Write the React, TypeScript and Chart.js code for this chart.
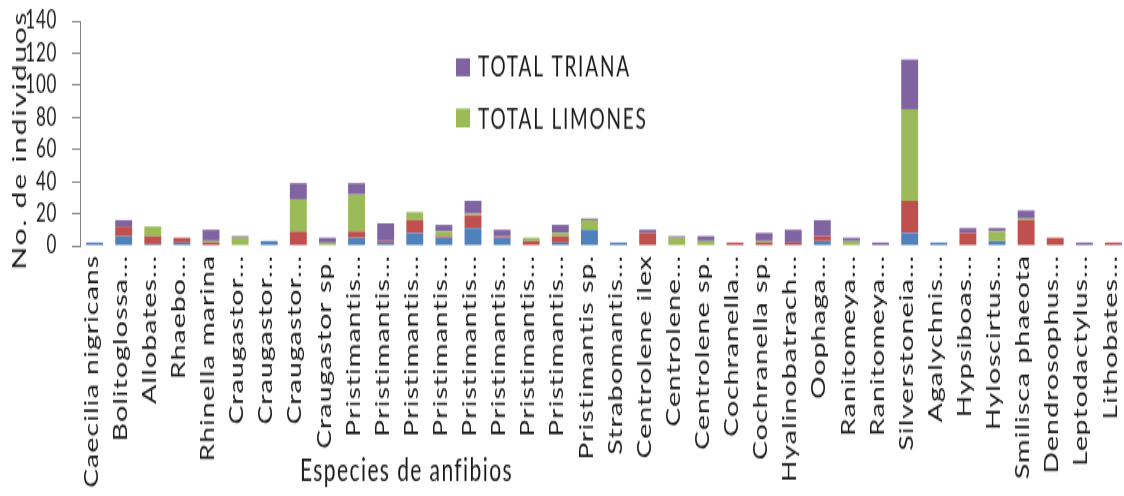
import React, { useEffect, useRef } from "react";
import { Chart, registerables } from "chart.js";

Chart.register(...registerables);

const categories = [
  "Caecilia nigricans",
  "Bolitoglossa...",
  "Allobates...",
  "Rhaebo...",
  "Rhinella marina",
  "Craugastor...",
  "Craugastor...",
  "Craugastor...",
  "Craugastor sp.",
  "Pristimantis...",
  "Pristimantis...",
  "Pristimantis...",
  "Pristimantis...",
  "Pristimantis...",
  "Pristimantis...",
  "Pristimantis...",
  "Pristimantis...",
  "Pristimantis sp.",
  "Strabomantis...",
  "Centrolene ilex",
  "Centrolene...",
  "Centrolene sp.",
  "Cochranella...",
  "Cochranella sp.",
  "Hyalinobatrach...",
  "Oophaga...",
  "Ranitomeya...",
  "Ranitomeya...",
  "Silverstoneia...",
  "Agalychnis...",
  "Hypsiboas...",
  "Hyloscirtus...",
  "Smilisca phaeota",
  "Dendrosophus...",
  "Leptodactylus...",
  "Lithobates...",
];

const seriesNames = ["Serie 1", "Serie 2", "TOTAL LIMONES", "TOTAL TRIANA"];

const serie1 = [2, 6, 1, 2, 0, 0, 3, 0, 0, 5, 2, 8, 5, 11, 5, 0, 2, 10, 2, 0, 0, 0, 0, 0, 0, 3, 0, 0, 8, 2, 0, 3, 0, 0, 0, 0];
const serie2 = [0, 6, 5, 3, 2, 0, 0, 9, 0, 4, 1, 8, 1, 8, 1, 3, 4, 0, 0, 8, 0, 0, 2, 2, 2, 3, 0, 0, 20, 0, 8, 0, 16, 5, 0, 2];
const totalLimones = [0, 0, 6, 0, 1, 5, 0, 20, 2, 23, 0, 5, 3, 1, 0, 2, 2, 6, 0, 0, 5, 3, 0, 1, 0, 0, 3, 0, 57, 0, 0, 6, 1, 0, 0, 0];
const totalTriana = [0, 4, 0, 0, 7, 1, 0, 10, 3, 7, 11, 0, 4, 8, 4, 0, 5, 1, 0, 2, 1, 3, 0, 5, 8, 10, 2, 2, 31, 0, 3, 2, 5, 0, 2, 0];

const yMin = 0;
const yMax = 140;
const yStep = 20;

const xTitle = "Especies de anfibios";
const yTitle = "No. de individuos";

const colors = ["#4F81BD", "#C0504D", "#9BBB59", "#8064A2"];

const W = 1128;
const H = 331;
const OUT_W = 1124;
const OUT_H = 496;
const SY = OUT_H / H;

export default function App() {
  const ref = useRef<HTMLCanvasElement>(null);

  useEffect(() => {
    const canvas = ref.current;
    if (!canvas) return;

    const overlay = {
      id: "overlay",
      beforeDraw(chart: any) {
        (chart.ctx as any).letterSpacing = "0.7px";
      },
      afterDraw(chart: any) {
        const ctx = chart.ctx as any;
        ctx.save();
        // legend (only two entries visible)
        ctx.fillStyle = colors[3];
        ctx.fillRect(456, 38.9, 14, 12);
        ctx.fillStyle = colors[2];
        ctx.fillRect(456, 72.4, 14, 12.6);
        ctx.fillStyle = "#1a1a1a";
        ctx.font = "19px Lato";
        ctx.letterSpacing = "1.8px";
        ctx.textAlign = "left";
        ctx.textBaseline = "alphabetic";
        ctx.fillText(seriesNames[3], 478, 51.3);
        ctx.fillText(seriesNames[2], 478, 85.6);
        // x axis title
        ctx.font = "21px Lato";
        ctx.letterSpacing = "1.4px";
        ctx.fillText(xTitle, 300, 321.3);
        // y axis title
        ctx.translate(26, 93.5);
        ctx.rotate(-Math.PI / 2);
        ctx.font = "20px Lato";
        ctx.letterSpacing = "1.2px";
        ctx.textAlign = "center";
        ctx.fillText(yTitle, 0, 0);
        ctx.restore();
      },
    };

    const seriesData = [serie1, serie2, totalLimones, totalTriana];

    const chart = new Chart(canvas, {
      type: "bar",
      data: {
        labels: categories,
        datasets: seriesData.map((d, i) => ({
          label: seriesNames[i],
          data: d,
          backgroundColor: colors[i],
          borderWidth: 0,
          categoryPercentage: 1,
          barPercentage: 0.58,
        })),
      },
      options: {
        animation: false,
        responsive: true,
        maintainAspectRatio: false,
        devicePixelRatio: 1,
        layout: { padding: { top: 14, left: 0, right: 0, bottom: 0 } },
        plugins: {
          legend: { display: false },
          tooltip: { enabled: false },
        },
        scales: {
          x: {
            stacked: true,
            grid: { display: false, drawTicks: false },
            border: { display: false },
            ticks: {
              autoSkip: false,
              minRotation: 90,
              maxRotation: 90,
              padding: 6,
              labelOffset: -3,
              color: "#1a1a1a",
              font: { family: "Lato", size: 19 },
            },
            afterFit: (s: any) => {
              s.height = H - 164;
              s.paddingLeft = 0;
              s.paddingRight = 0;
            },
          },
          y: {
            stacked: true,
            min: yMin,
            max: yMax,
            ticks: {
              stepSize: yStep,
              autoSkip: false,
              padding: 15,
              color: "#1a1a1a",
              font: { family: "Lato", size: 17 },
            },
            grid: {
              drawOnChartArea: false,
              drawTicks: true,
              tickLength: 8,
              color: "#868686",
            },
            border: { display: true, color: "#868686", width: 1 },
            afterFit: (s: any) => {
              s.width = 80;
              s.paddingTop = 0;
              s.paddingBottom = 0;
            },
          },
        },
      } as any,
      plugins: [overlay],
    });

    return () => chart.destroy();
  }, []);

  return (
    <div
      style={{
        position: "fixed",
        left: 0,
        top: 0,
        width: OUT_W,
        height: OUT_H,
        overflow: "hidden",
        background: "#ffffff",
      }}
    >
      <div
        style={{
          position: "relative",
          width: W,
          height: H,
          transform: `scaleY(${SY})`,
          transformOrigin: "0 0",
        }}
      >
        <canvas ref={ref} />
      </div>
    </div>
  );
}
